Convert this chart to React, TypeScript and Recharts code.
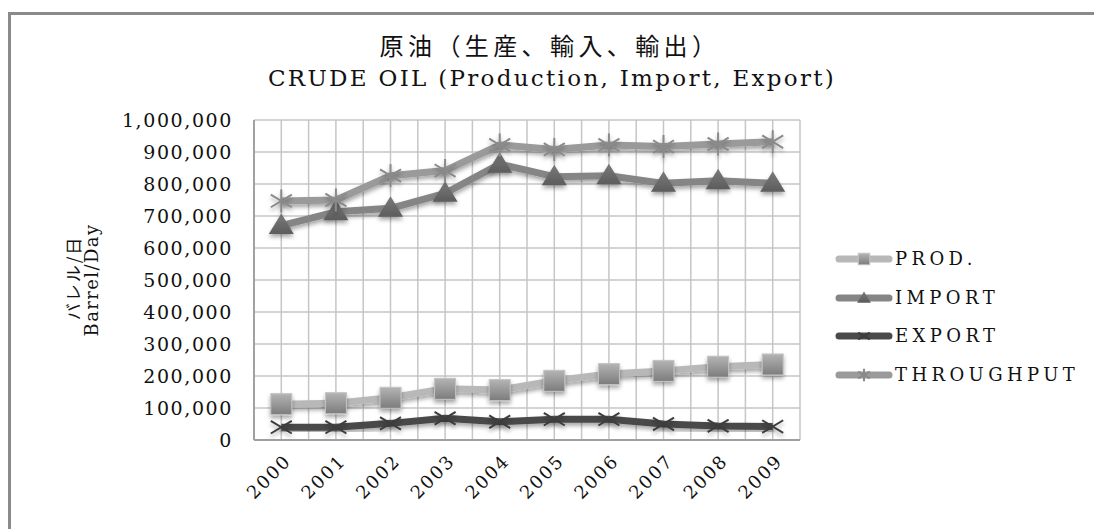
import * as React from "react";
import { CartesianGrid, Line, LineChart, XAxis, YAxis } from "recharts";

const years = ["2000", "2001", "2002", "2003", "2004", "2005", "2006", "2007", "2008", "2009"];
const prod = [112000, 115000, 132000, 160000, 156000, 185000, 206000, 216000, 229000, 236000];
const imports = [670000, 713000, 724000, 771000, 862000, 823000, 826000, 802000, 810000, 802000];
const exports = [40000, 40000, 52000, 68000, 57000, 65000, 65000, 50000, 44000, 42000];
const throughput = [747000, 750000, 826000, 842000, 922000, 908000, 922000, 917000, 925000, 932000];
const yTicks = [0, 100000, 200000, 300000, 400000, 500000, 600000, 700000, 800000, 900000, 1000000];

const data = years.map((year, i) => ({
  year,
  prod: prod[i],
  import: imports[i],
  export: exports[i],
  throughput: throughput[i],
}));

type Kind = "square" | "triangle" | "x" | "star";

interface SeriesDef {
  key: string;
  label: string;
  stroke: string;
  kind: Kind;
}

const SERIES: SeriesDef[] = [
  { key: "prod", label: "PROD.", stroke: "#b8b8b8", kind: "square" },
  { key: "import", label: "IMPORT", stroke: "#858585", kind: "triangle" },
  { key: "export", label: "EXPORT", stroke: "#4a4a4a", kind: "x" },
  { key: "throughput", label: "THROUGHPUT", stroke: "#9a9a9a", kind: "star" },
];

const SERIF = '"DejaVu Serif", "Liberation Serif", serif';
const CJK = '"Noto Sans CJK JP", sans-serif';

function Marker({ kind, cx, cy, s = 1, shadow = true }: { kind: Kind; cx: number; cy: number; s?: number; shadow?: boolean }) {
  const f = shadow ? "url(#dropShadow)" : undefined;
  if (kind === "square") {
    const h = 10.5 * s;
    return (
      <rect x={cx - h} y={cy - h} width={h * 2} height={h * 2} fill="url(#sqGrad)" stroke="#c4c4c4" strokeWidth={1} filter={f} />
    );
  }
  if (kind === "triangle") {
    return (
      <polygon
        points={`${cx},${cy - 12 * s} ${cx + 12.5 * s},${cy + 8.5 * s} ${cx - 12.5 * s},${cy + 8.5 * s}`}
        fill="url(#triGrad)"
        filter={f}
      />
    );
  }
  const d = 10.5 * s;
  const color = kind === "x" ? "#3c3c3c" : "#8a8a8a";
  return (
    <g filter={f} stroke={color} strokeWidth={2}>
      <line x1={cx - d} y1={cy - d * 0.6} x2={cx + d} y2={cy + d * 0.6} />
      <line x1={cx - d} y1={cy + d * 0.6} x2={cx + d} y2={cy - d * 0.6} />
      {kind === "star" && <line x1={cx} y1={cy - d * 1.1} x2={cx} y2={cy + d * 1.1} />}
    </g>
  );
}

const makeDot = (kind: Kind) => (p: any) => {
  if (p.cx == null || p.cy == null) return <g key={p.index} />;
  return (
    <g key={p.index}>
      <Marker kind={kind} cx={p.cx} cy={p.cy} />
    </g>
  );
};

const fmt = (v: number) => v.toLocaleString("en-US");

function YearTick({ x, y, payload }: any) {
  const ax = x + 11;
  const ay = y + 14;
  return (
    <text
      x={ax}
      y={ay}
      textAnchor="end"
      transform={`rotate(-45, ${ax}, ${ay})`}
      fontFamily={SERIF}
      fontSize={18}
      letterSpacing={2}
      fill="#111"
    >
      {payload.value}
    </text>
  );
}

export default function App() {
  return (
    <div style={{ position: "absolute", left: 0, top: 0, width: 1094, height: 529, overflow: "hidden", background: "#fff" }}>
      <svg width={0} height={0} style={{ position: "absolute" }}>
        <defs>
          <filter id="dropShadow" x="-50%" y="-50%" width="200%" height="200%">
            <feDropShadow dx={0} dy={3} stdDeviation={2} floodColor="#000" floodOpacity={0.35} />
          </filter>
          <linearGradient id="sqGrad" x1="0" y1="0" x2="0" y2="1">
            <stop offset="0%" stopColor="#b4b4b4" />
            <stop offset="100%" stopColor="#7c7c7c" />
          </linearGradient>
          <linearGradient id="triGrad" x1="0" y1="0" x2="0" y2="1">
            <stop offset="0%" stopColor="#7a7a7a" />
            <stop offset="100%" stopColor="#5c5c5c" />
          </linearGradient>
        </defs>
      </svg>

      {/* chart frame (top and left edges visible) */}
      <div style={{ position: "absolute", left: 8, top: 12, width: 1100, height: 600, borderTop: "3px solid #8a8a8a", borderLeft: "3px solid #8a8a8a" }} />

      <div style={{ position: "absolute", left: 150, width: 800, top: 30, lineHeight: "30px", textAlign: "center", fontFamily: CJK, fontSize: 24, letterSpacing: 4.4, color: "#111" }}>
        原油（生産、輸入、輸出）
      </div>
      <div style={{ position: "absolute", left: 152, width: 800, top: 63, lineHeight: "30px", textAlign: "center", fontFamily: SERIF, fontSize: 23, letterSpacing: 2.3, color: "#111" }}>
        CRUDE OIL (Production, Import, Export)
      </div>

      <div style={{ position: "absolute", left: 0, top: 0 }}>
        <LineChart width={1094} height={529} data={data} margin={{ top: 120, right: 294, bottom: 0, left: 0 }}>
          <CartesianGrid
            stroke="#c6c6c6"
            strokeWidth={1.5}
            verticalCoordinatesGenerator={({ offset }: any) =>
              Array.from({ length: 21 }, (_, i) => offset.left + (offset.width * i) / 20)
            }
          />
          <XAxis
            dataKey="year"
            height={89}
            interval={0}
            padding={{ left: 27.3, right: 27.3 }}
            axisLine={{ stroke: "#a0a0a0", strokeWidth: 2 }}
            tickLine={false}
            tick={<YearTick />}
          />
          <YAxis
            width={254}
            domain={[0, 1000000]}
            ticks={yTicks}
            interval={0}
            tickFormatter={fmt}
            axisLine={{ stroke: "#a0a0a0", strokeWidth: 2 }}
            tickLine={false}
            tickSize={0}
            tickMargin={21}
            tick={{ fontFamily: SERIF, fontSize: 19, fill: "#111", letterSpacing: 1.6 }}
          />
          {SERIES.map((s) => (
            <Line
              key={s.key}
              dataKey={s.key}
              name={s.label}
              type="linear"
              stroke={s.stroke}
              strokeWidth={7}
              strokeLinejoin="round"
              filter="url(#dropShadow)"
              dot={makeDot(s.kind)}
              activeDot={false}
              isAnimationActive={false}
            />
          ))}
        </LineChart>
      </div>

      {/* y axis title */}
      <div style={{ position: "absolute", left: 73, top: 278, transform: "translate(-50%, -50%) rotate(-90deg)", whiteSpace: "nowrap", fontFamily: CJK, fontSize: 17, letterSpacing: 2, color: "#111", lineHeight: "20px" }}>
        バレル/日
      </div>
      <div style={{ position: "absolute", left: 92, top: 280, transform: "translate(-50%, -50%) rotate(-90deg)", whiteSpace: "nowrap", fontFamily: SERIF, fontSize: 18, letterSpacing: 1.4, color: "#111", lineHeight: "20px" }}>
        Barrel/Day
      </div>

      {/* legend */}
      {SERIES.map((s, i) => (
        <div key={s.key} style={{ position: "absolute", left: 833, top: 259 + i * 38.7 - 12, height: 24, display: "flex", alignItems: "center" }}>
          <svg width={60} height={24}>
            <line x1={6} y1={12} x2={56} y2={12} stroke={s.stroke} strokeWidth={7} strokeLinecap="round" />
            <Marker kind={s.kind} cx={31} cy={12} s={0.55} shadow={false} />
          </svg>
          <span style={{ marginLeft: 2, fontFamily: SERIF, fontSize: 18, letterSpacing: 4.4, color: "#111", lineHeight: "24px" }}>{s.label}</span>
        </div>
      ))}
    </div>
  );
}
